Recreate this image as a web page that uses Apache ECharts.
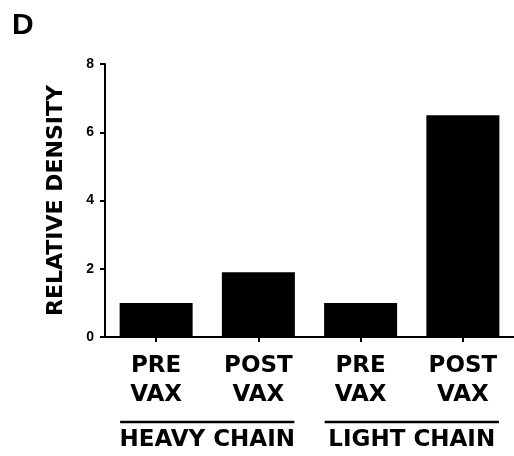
<!DOCTYPE html>
<html>
<head>
<meta charset="utf-8">
<script src="https://cdn.jsdelivr.net/npm/echarts@6/dist/echarts.min.js"></script>
<style>
  html, body { margin: 0; padding: 0; background: #fff; }
  #chart { width: 514px; height: 456px; }
</style>
</head>
<body>
<div id="chart"></div>
<script>
// Relative band density before and after vaccination, per chain
const categories = ['PRE\nVAX', 'POST\nVAX', 'PRE\nVAX', 'POST\nVAX'];
const densities = [1.0, 1.9, 1.0, 6.5];
const groups = ['HEAVY CHAIN', 'LIGHT CHAIN'];
const yTicks = { min: 0, max: 8, interval: 2 };

const FONT = 'DejaVu Sans';
const chart = echarts.init(document.getElementById('chart'), null, { renderer: 'canvas' });

const option = {
  backgroundColor: '#fff',
  animation: false,
  grid: { left: 105, top: 64, width: 410, height: 273, containLabel: false },
  xAxis: [
    {
      type: 'category',
      data: categories,
      axisLine: { show: true, lineStyle: { color: '#000', width: 2 } },
      axisTick: { show: true, alignWithLabel: true, length: 5, lineStyle: { color: '#000', width: 2 } },
      axisLabel: {
        color: '#000', fontFamily: FONT, fontWeight: 'bold', fontSize: 23,
        lineHeight: 29, margin: 15, interval: 0
      }
    },
    {
      type: 'category',
      data: groups,
      position: 'bottom',
      offset: 84,
      axisLine: { show: false },
      axisTick: { show: false },
      axisLabel: {
        color: '#000', fontFamily: FONT, fontWeight: 'bold', fontSize: 23,
        margin: 8, interval: 0
      }
    }
  ],
  yAxis: {
    type: 'value',
    min: yTicks.min,
    max: yTicks.max,
    interval: yTicks.interval,
    name: 'RELATIVE DENSITY',
    nameLocation: 'middle',
    nameRotate: 90,
    nameGap: 38,
    nameTextStyle: { color: '#000', fontFamily: FONT, fontWeight: 'bold', fontSize: 22 },
    splitLine: { show: false },
    axisLine: { show: true, lineStyle: { color: '#000', width: 2 } },
    axisTick: { show: true, length: 5, lineStyle: { color: '#000', width: 2 } },
    axisLabel: { color: '#000', fontFamily: 'Liberation Sans', fontWeight: 'bold', fontSize: 14, margin: 11 }
  },
  series: [
    {
      type: 'bar',
      data: densities,
      barWidth: 73,
      itemStyle: { color: '#000' },
      xAxisIndex: 0
    },
    {
      // empty series so the group axis is laid out
      type: 'bar',
      data: [null, null],
      xAxisIndex: 1
    }
  ],
  graphic: [
    {
      type: 'text',
      left: 12,
      top: 11,
      style: { text: 'D', fill: '#000', font: 'bold 30px "Liberation Sans"' }
    }
  ]
};

chart.setOption(option);

// Brackets under each pair of bars, spanning the outer edges of the pair
const lineY = 422;
const half = 36;
const brackets = [[0, 1], [2, 3]].map(function (pair) {
  const x0 = chart.convertToPixel({ xAxisIndex: 0 }, pair[0]) - half;
  const x1 = chart.convertToPixel({ xAxisIndex: 0 }, pair[1]) + half;
  return {
    type: 'line',
    shape: { x1: x0, y1: lineY, x2: x1, y2: lineY },
    style: { stroke: '#000', lineWidth: 2.5 }
  };
});
chart.setOption({ graphic: option.graphic.concat(brackets) });
</script>
</body>
</html>
